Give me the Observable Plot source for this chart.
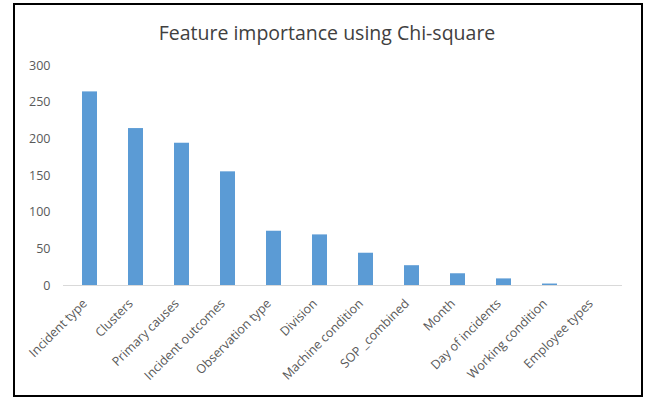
<!DOCTYPE html>
<html>
<head>
<meta charset="utf-8">
<script src="https://cdn.jsdelivr.net/npm/d3@7"></script>
<script src="https://cdn.jsdelivr.net/npm/@observablehq/plot@0.6"></script>
<style>
  html, body { margin: 0; padding: 0; background: #fff; }
  #figure { position: relative; width: 651px; height: 400px; overflow: hidden; font-family: "Open Sans", sans-serif; }
  #frame { position: absolute; left: 13px; top: 3px; width: 626px; height: 390px; border: 2px solid #000; }
  #title { position: absolute; left: 0; width: 654px; top: 19px; text-align: center; font-size: 19.5px; color: #404040; }
  #chart { position: absolute; left: 0; top: 0; }
</style>
</head>
<body>
<div id="figure">
  <div id="frame"></div>
  <div id="title">Feature importance using Chi-square</div>
  <div id="chart"></div>
</div>
<script>
// Chi-square scores per feature
const features = [
  "Incident type", "Clusters", "Primary causes", "Incident outcomes",
  "Observation type", "Division", "Machine condition", "SOP _combined",
  "Month", "Day of incidents", "Working condition", "Employee types"
];
const scores = [264, 214, 194, 155, 74, 69, 44, 27, 16, 9, 2, 0];
const yTicks = [0, 50, 100, 150, 200, 250, 300];

const data = features.map((f, i) => ({feature: f, score: scores[i]}));

const chart = Plot.plot({
  width: 651,
  height: 400,
  marginLeft: 63,
  marginRight: 29,
  marginTop: 65,
  marginBottom: 115,
  style: {fontFamily: "Open Sans, sans-serif", fontSize: "12.5px", color: "#595959", background: "transparent"},
  x: {domain: features, paddingInner: 0.68, paddingOuter: 0.34, label: null},
  y: {domain: [0, 300], label: null},
  marks: [
    Plot.barY(data, {x: "feature", y: "score", fill: "#5B9BD5"}),
    Plot.ruleY([0], {stroke: "#d9d9d9", strokeWidth: 1}),
    Plot.axisY({ticks: yTicks, tickSize: 0, tickPadding: 13, fontSize: 12.5, label: null}),
    Plot.axisX({tickSize: 0, tickPadding: 16, tickRotate: -45, fontSize: 12.5, dx: -5, label: null})
  ]
});
document.getElementById("chart").appendChild(chart);
</script>
</body>
</html>
